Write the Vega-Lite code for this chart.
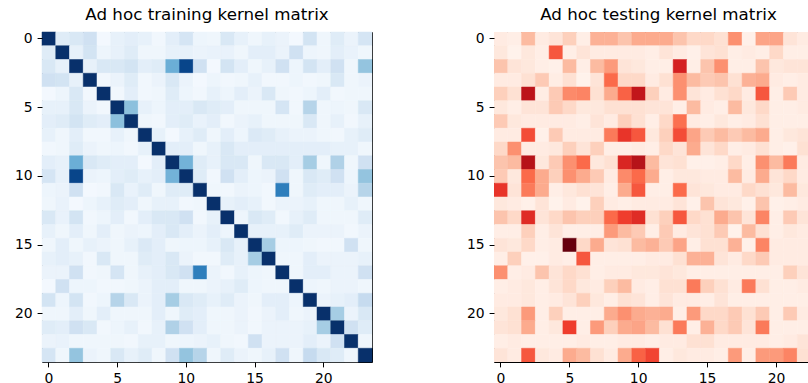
{
"$schema": "https://vega.github.io/schema/vega-lite/v6.json",
"padding": {"left": 14, "top": 6, "right": 0, "bottom": 0},
"background": "white",
"datasets": {
"train": [
{"r":0,"c":0,"v":1},{"r":0,"c":1,"v":0.12},{"r":0,"c":2,"v":0.15},{"r":0,"c":3,"v":0.2},{"r":0,"c":4,"v":0.02},{"r":0,"c":5,"v":0.08},{"r":0,"c":6,"v":0.1},{"r":0,"c":7,"v":0.08},{"r":0,"c":8,"v":0.03},{"r":0,"c":9,"v":0.1},{"r":0,"c":10,"v":0.17},{"r":0,"c":11,"v":0.05},{"r":0,"c":12,"v":0.04},{"r":0,"c":13,"v":0.15},{"r":0,"c":14,"v":0.08},{"r":0,"c":15,"v":0.04},{"r":0,"c":16,"v":0.08},{"r":0,"c":17,"v":0.06},{"r":0,"c":18,"v":0.02},{"r":0,"c":19,"v":0.18},{"r":0,"c":20,"v":0.04},{"r":0,"c":21,"v":0.12},{"r":0,"c":22,"v":0.06},{"r":0,"c":23,"v":0.17},
{"r":1,"c":0,"v":0.12},{"r":1,"c":1,"v":1},{"r":1,"c":2,"v":0.08},{"r":1,"c":3,"v":0.18},{"r":1,"c":4,"v":0.05},{"r":1,"c":5,"v":0.08},{"r":1,"c":6,"v":0.12},{"r":1,"c":7,"v":0.04},{"r":1,"c":8,"v":0.04},{"r":1,"c":9,"v":0.08},{"r":1,"c":10,"v":0.08},{"r":1,"c":11,"v":0.06},{"r":1,"c":12,"v":0.07},{"r":1,"c":13,"v":0.07},{"r":1,"c":14,"v":0.04},{"r":1,"c":15,"v":0.1},{"r":1,"c":16,"v":0.1},{"r":1,"c":17,"v":0.06},{"r":1,"c":18,"v":0.2},{"r":1,"c":19,"v":0.05},{"r":1,"c":20,"v":0.04},{"r":1,"c":21,"v":0.1},{"r":1,"c":22,"v":0.07},{"r":1,"c":23,"v":0.04},
{"r":2,"c":0,"v":0.15},{"r":2,"c":1,"v":0.08},{"r":2,"c":2,"v":1},{"r":2,"c":3,"v":0.08},{"r":2,"c":4,"v":0.15},{"r":2,"c":5,"v":0.15},{"r":2,"c":6,"v":0.18},{"r":2,"c":7,"v":0.1},{"r":2,"c":8,"v":0.12},{"r":2,"c":9,"v":0.5},{"r":2,"c":10,"v":0.92},{"r":2,"c":11,"v":0.2},{"r":2,"c":12,"v":0.02},{"r":2,"c":13,"v":0.18},{"r":2,"c":14,"v":0.1},{"r":2,"c":15,"v":0.04},{"r":2,"c":16,"v":0.08},{"r":2,"c":17,"v":0.2},{"r":2,"c":18,"v":0.05},{"r":2,"c":19,"v":0.18},{"r":2,"c":20,"v":0.1},{"r":2,"c":21,"v":0.2},{"r":2,"c":22,"v":0.04},{"r":2,"c":23,"v":0.4},
{"r":3,"c":0,"v":0.2},{"r":3,"c":1,"v":0.18},{"r":3,"c":2,"v":0.08},{"r":3,"c":3,"v":1},{"r":3,"c":4,"v":0.03},{"r":3,"c":5,"v":0.06},{"r":3,"c":6,"v":0.12},{"r":3,"c":7,"v":0.03},{"r":3,"c":8,"v":0.06},{"r":3,"c":9,"v":0.15},{"r":3,"c":10,"v":0.06},{"r":3,"c":11,"v":0.02},{"r":3,"c":12,"v":0.05},{"r":3,"c":13,"v":0.03},{"r":3,"c":14,"v":0.04},{"r":3,"c":15,"v":0.08},{"r":3,"c":16,"v":0.03},{"r":3,"c":17,"v":0.03},{"r":3,"c":18,"v":0.05},{"r":3,"c":19,"v":0.03},{"r":3,"c":20,"v":0.04},{"r":3,"c":21,"v":0.15},{"r":3,"c":22,"v":0.04},{"r":3,"c":23,"v":0.06},
{"r":4,"c":0,"v":0.02},{"r":4,"c":1,"v":0.05},{"r":4,"c":2,"v":0.15},{"r":4,"c":3,"v":0.03},{"r":4,"c":4,"v":1},{"r":4,"c":5,"v":0.03},{"r":4,"c":6,"v":0.1},{"r":4,"c":7,"v":0.03},{"r":4,"c":8,"v":0.04},{"r":4,"c":9,"v":0.12},{"r":4,"c":10,"v":0.05},{"r":4,"c":11,"v":0.03},{"r":4,"c":12,"v":0.08},{"r":4,"c":13,"v":0.05},{"r":4,"c":14,"v":0.1},{"r":4,"c":15,"v":0.06},{"r":4,"c":16,"v":0.15},{"r":4,"c":17,"v":0.04},{"r":4,"c":18,"v":0.03},{"r":4,"c":19,"v":0.05},{"r":4,"c":20,"v":0.1},{"r":4,"c":21,"v":0.03},{"r":4,"c":22,"v":0.04},{"r":4,"c":23,"v":0.04},
{"r":5,"c":0,"v":0.08},{"r":5,"c":1,"v":0.08},{"r":5,"c":2,"v":0.15},{"r":5,"c":3,"v":0.06},{"r":5,"c":4,"v":0.03},{"r":5,"c":5,"v":1},{"r":5,"c":6,"v":0.42},{"r":5,"c":7,"v":0.08},{"r":5,"c":8,"v":0.05},{"r":5,"c":9,"v":0.1},{"r":5,"c":10,"v":0.1},{"r":5,"c":11,"v":0.15},{"r":5,"c":12,"v":0.12},{"r":5,"c":13,"v":0.1},{"r":5,"c":14,"v":0.04},{"r":5,"c":15,"v":0.04},{"r":5,"c":16,"v":0.04},{"r":5,"c":17,"v":0.17},{"r":5,"c":18,"v":0.03},{"r":5,"c":19,"v":0.3},{"r":5,"c":20,"v":0.04},{"r":5,"c":21,"v":0.05},{"r":5,"c":22,"v":0.04},{"r":5,"c":23,"v":0.15},
{"r":6,"c":0,"v":0.1},{"r":6,"c":1,"v":0.12},{"r":6,"c":2,"v":0.18},{"r":6,"c":3,"v":0.12},{"r":6,"c":4,"v":0.1},{"r":6,"c":5,"v":0.42},{"r":6,"c":6,"v":1},{"r":6,"c":7,"v":0.04},{"r":6,"c":8,"v":0.03},{"r":6,"c":9,"v":0.1},{"r":6,"c":10,"v":0.12},{"r":6,"c":11,"v":0.07},{"r":6,"c":12,"v":0.1},{"r":6,"c":13,"v":0.03},{"r":6,"c":14,"v":0.06},{"r":6,"c":15,"v":0.08},{"r":6,"c":16,"v":0.04},{"r":6,"c":17,"v":0.04},{"r":6,"c":18,"v":0.04},{"r":6,"c":19,"v":0.15},{"r":6,"c":20,"v":0.04},{"r":6,"c":21,"v":0.08},{"r":6,"c":22,"v":0.03},{"r":6,"c":23,"v":0.08},
{"r":7,"c":0,"v":0.08},{"r":7,"c":1,"v":0.04},{"r":7,"c":2,"v":0.1},{"r":7,"c":3,"v":0.03},{"r":7,"c":4,"v":0.03},{"r":7,"c":5,"v":0.08},{"r":7,"c":6,"v":0.04},{"r":7,"c":7,"v":1},{"r":7,"c":8,"v":0.08},{"r":7,"c":9,"v":0.02},{"r":7,"c":10,"v":0.08},{"r":7,"c":11,"v":0.12},{"r":7,"c":12,"v":0.04},{"r":7,"c":13,"v":0.1},{"r":7,"c":14,"v":0.05},{"r":7,"c":15,"v":0.14},{"r":7,"c":16,"v":0.12},{"r":7,"c":17,"v":0.08},{"r":7,"c":18,"v":0.06},{"r":7,"c":19,"v":0.06},{"r":7,"c":20,"v":0.04},{"r":7,"c":21,"v":0.03},{"r":7,"c":22,"v":0.08},{"r":7,"c":23,"v":0.12},
{"r":8,"c":0,"v":0.03},{"r":8,"c":1,"v":0.04},{"r":8,"c":2,"v":0.12},{"r":8,"c":3,"v":0.06},{"r":8,"c":4,"v":0.04},{"r":8,"c":5,"v":0.05},{"r":8,"c":6,"v":0.03},{"r":8,"c":7,"v":0.08},{"r":8,"c":8,"v":1},{"r":8,"c":9,"v":0.1},{"r":8,"c":10,"v":0.1},{"r":8,"c":11,"v":0.04},{"r":8,"c":12,"v":0.08},{"r":8,"c":13,"v":0.15},{"r":8,"c":14,"v":0.1},{"r":8,"c":15,"v":0.1},{"r":8,"c":16,"v":0.1},{"r":8,"c":17,"v":0.1},{"r":8,"c":18,"v":0.1},{"r":8,"c":19,"v":0.1},{"r":8,"c":20,"v":0.1},{"r":8,"c":21,"v":0.08},{"r":8,"c":22,"v":0.08},{"r":8,"c":23,"v":0.04},
{"r":9,"c":0,"v":0.1},{"r":9,"c":1,"v":0.08},{"r":9,"c":2,"v":0.5},{"r":9,"c":3,"v":0.15},{"r":9,"c":4,"v":0.12},{"r":9,"c":5,"v":0.1},{"r":9,"c":6,"v":0.1},{"r":9,"c":7,"v":0.02},{"r":9,"c":8,"v":0.1},{"r":9,"c":9,"v":1},{"r":9,"c":10,"v":0.48},{"r":9,"c":11,"v":0.12},{"r":9,"c":12,"v":0.08},{"r":9,"c":13,"v":0.15},{"r":9,"c":14,"v":0.15},{"r":9,"c":15,"v":0.04},{"r":9,"c":16,"v":0.15},{"r":9,"c":17,"v":0.15},{"r":9,"c":18,"v":0.1},{"r":9,"c":19,"v":0.35},{"r":9,"c":20,"v":0.04},{"r":9,"c":21,"v":0.32},{"r":9,"c":22,"v":0.04},{"r":9,"c":23,"v":0.2},
{"r":10,"c":0,"v":0.17},{"r":10,"c":1,"v":0.08},{"r":10,"c":2,"v":0.92},{"r":10,"c":3,"v":0.06},{"r":10,"c":4,"v":0.05},{"r":10,"c":5,"v":0.1},{"r":10,"c":6,"v":0.12},{"r":10,"c":7,"v":0.08},{"r":10,"c":8,"v":0.1},{"r":10,"c":9,"v":0.48},{"r":10,"c":10,"v":1},{"r":10,"c":11,"v":0.12},{"r":10,"c":12,"v":0.03},{"r":10,"c":13,"v":0.2},{"r":10,"c":14,"v":0.1},{"r":10,"c":15,"v":0.05},{"r":10,"c":16,"v":0.06},{"r":10,"c":17,"v":0.2},{"r":10,"c":18,"v":0.04},{"r":10,"c":19,"v":0.15},{"r":10,"c":20,"v":0.12},{"r":10,"c":21,"v":0.2},{"r":10,"c":22,"v":0.05},{"r":10,"c":23,"v":0.4},
{"r":11,"c":0,"v":0.05},{"r":11,"c":1,"v":0.06},{"r":11,"c":2,"v":0.2},{"r":11,"c":3,"v":0.02},{"r":11,"c":4,"v":0.03},{"r":11,"c":5,"v":0.15},{"r":11,"c":6,"v":0.07},{"r":11,"c":7,"v":0.12},{"r":11,"c":8,"v":0.04},{"r":11,"c":9,"v":0.12},{"r":11,"c":10,"v":0.12},{"r":11,"c":11,"v":1},{"r":11,"c":12,"v":0.04},{"r":11,"c":13,"v":0.03},{"r":11,"c":14,"v":0.06},{"r":11,"c":15,"v":0.05},{"r":11,"c":16,"v":0.03},{"r":11,"c":17,"v":0.7},{"r":11,"c":18,"v":0.04},{"r":11,"c":19,"v":0.12},{"r":11,"c":20,"v":0.1},{"r":11,"c":21,"v":0.1},{"r":11,"c":22,"v":0.06},{"r":11,"c":23,"v":0.3},
{"r":12,"c":0,"v":0.04},{"r":12,"c":1,"v":0.07},{"r":12,"c":2,"v":0.02},{"r":12,"c":3,"v":0.05},{"r":12,"c":4,"v":0.08},{"r":12,"c":5,"v":0.12},{"r":12,"c":6,"v":0.1},{"r":12,"c":7,"v":0.04},{"r":12,"c":8,"v":0.08},{"r":12,"c":9,"v":0.08},{"r":12,"c":10,"v":0.03},{"r":12,"c":11,"v":0.04},{"r":12,"c":12,"v":1},{"r":12,"c":13,"v":0.08},{"r":12,"c":14,"v":0.1},{"r":12,"c":15,"v":0.08},{"r":12,"c":16,"v":0.03},{"r":12,"c":17,"v":0.06},{"r":12,"c":18,"v":0.06},{"r":12,"c":19,"v":0.08},{"r":12,"c":20,"v":0.04},{"r":12,"c":21,"v":0.04},{"r":12,"c":22,"v":0.08},{"r":12,"c":23,"v":0.04},
{"r":13,"c":0,"v":0.15},{"r":13,"c":1,"v":0.07},{"r":13,"c":2,"v":0.18},{"r":13,"c":3,"v":0.03},{"r":13,"c":4,"v":0.05},{"r":13,"c":5,"v":0.1},{"r":13,"c":6,"v":0.03},{"r":13,"c":7,"v":0.1},{"r":13,"c":8,"v":0.15},{"r":13,"c":9,"v":0.15},{"r":13,"c":10,"v":0.2},{"r":13,"c":11,"v":0.03},{"r":13,"c":12,"v":0.08},{"r":13,"c":13,"v":1},{"r":13,"c":14,"v":0.05},{"r":13,"c":15,"v":0.15},{"r":13,"c":16,"v":0.12},{"r":13,"c":17,"v":0.03},{"r":13,"c":18,"v":0.08},{"r":13,"c":19,"v":0.12},{"r":13,"c":20,"v":0.04},{"r":13,"c":21,"v":0.04},{"r":13,"c":22,"v":0.04},{"r":13,"c":23,"v":0.12},
{"r":14,"c":0,"v":0.08},{"r":14,"c":1,"v":0.04},{"r":14,"c":2,"v":0.1},{"r":14,"c":3,"v":0.04},{"r":14,"c":4,"v":0.1},{"r":14,"c":5,"v":0.04},{"r":14,"c":6,"v":0.06},{"r":14,"c":7,"v":0.05},{"r":14,"c":8,"v":0.1},{"r":14,"c":9,"v":0.15},{"r":14,"c":10,"v":0.1},{"r":14,"c":11,"v":0.06},{"r":14,"c":12,"v":0.1},{"r":14,"c":13,"v":0.05},{"r":14,"c":14,"v":1},{"r":14,"c":15,"v":0.08},{"r":14,"c":16,"v":0.08},{"r":14,"c":17,"v":0.08},{"r":14,"c":18,"v":0.12},{"r":14,"c":19,"v":0.06},{"r":14,"c":20,"v":0.06},{"r":14,"c":21,"v":0.06},{"r":14,"c":22,"v":0.03},{"r":14,"c":23,"v":0.06},
{"r":15,"c":0,"v":0.04},{"r":15,"c":1,"v":0.1},{"r":15,"c":2,"v":0.04},{"r":15,"c":3,"v":0.08},{"r":15,"c":4,"v":0.06},{"r":15,"c":5,"v":0.04},{"r":15,"c":6,"v":0.08},{"r":15,"c":7,"v":0.14},{"r":15,"c":8,"v":0.1},{"r":15,"c":9,"v":0.04},{"r":15,"c":10,"v":0.05},{"r":15,"c":11,"v":0.05},{"r":15,"c":12,"v":0.08},{"r":15,"c":13,"v":0.15},{"r":15,"c":14,"v":0.08},{"r":15,"c":15,"v":1},{"r":15,"c":16,"v":0.35},{"r":15,"c":17,"v":0.05},{"r":15,"c":18,"v":0.05},{"r":15,"c":19,"v":0.04},{"r":15,"c":20,"v":0.03},{"r":15,"c":21,"v":0.03},{"r":15,"c":22,"v":0.2},{"r":15,"c":23,"v":0.04},
{"r":16,"c":0,"v":0.08},{"r":16,"c":1,"v":0.1},{"r":16,"c":2,"v":0.08},{"r":16,"c":3,"v":0.03},{"r":16,"c":4,"v":0.15},{"r":16,"c":5,"v":0.04},{"r":16,"c":6,"v":0.04},{"r":16,"c":7,"v":0.12},{"r":16,"c":8,"v":0.1},{"r":16,"c":9,"v":0.15},{"r":16,"c":10,"v":0.06},{"r":16,"c":11,"v":0.03},{"r":16,"c":12,"v":0.03},{"r":16,"c":13,"v":0.12},{"r":16,"c":14,"v":0.08},{"r":16,"c":15,"v":0.35},{"r":16,"c":16,"v":1},{"r":16,"c":17,"v":0.04},{"r":16,"c":18,"v":0.04},{"r":16,"c":19,"v":0.1},{"r":16,"c":20,"v":0.06},{"r":16,"c":21,"v":0.06},{"r":16,"c":22,"v":0.06},{"r":16,"c":23,"v":0.08},
{"r":17,"c":0,"v":0.06},{"r":17,"c":1,"v":0.06},{"r":17,"c":2,"v":0.2},{"r":17,"c":3,"v":0.03},{"r":17,"c":4,"v":0.04},{"r":17,"c":5,"v":0.17},{"r":17,"c":6,"v":0.04},{"r":17,"c":7,"v":0.08},{"r":17,"c":8,"v":0.1},{"r":17,"c":9,"v":0.15},{"r":17,"c":10,"v":0.2},{"r":17,"c":11,"v":0.7},{"r":17,"c":12,"v":0.06},{"r":17,"c":13,"v":0.03},{"r":17,"c":14,"v":0.08},{"r":17,"c":15,"v":0.05},{"r":17,"c":16,"v":0.04},{"r":17,"c":17,"v":1},{"r":17,"c":18,"v":0.04},{"r":17,"c":19,"v":0.1},{"r":17,"c":20,"v":0.1},{"r":17,"c":21,"v":0.06},{"r":17,"c":22,"v":0.06},{"r":17,"c":23,"v":0.2},
{"r":18,"c":0,"v":0.02},{"r":18,"c":1,"v":0.2},{"r":18,"c":2,"v":0.05},{"r":18,"c":3,"v":0.05},{"r":18,"c":4,"v":0.03},{"r":18,"c":5,"v":0.03},{"r":18,"c":6,"v":0.04},{"r":18,"c":7,"v":0.06},{"r":18,"c":8,"v":0.1},{"r":18,"c":9,"v":0.1},{"r":18,"c":10,"v":0.04},{"r":18,"c":11,"v":0.04},{"r":18,"c":12,"v":0.06},{"r":18,"c":13,"v":0.08},{"r":18,"c":14,"v":0.12},{"r":18,"c":15,"v":0.05},{"r":18,"c":16,"v":0.04},{"r":18,"c":17,"v":0.04},{"r":18,"c":18,"v":1},{"r":18,"c":19,"v":0.05},{"r":18,"c":20,"v":0.04},{"r":18,"c":21,"v":0.06},{"r":18,"c":22,"v":0.06},{"r":18,"c":23,"v":0.04},
{"r":19,"c":0,"v":0.18},{"r":19,"c":1,"v":0.05},{"r":19,"c":2,"v":0.18},{"r":19,"c":3,"v":0.03},{"r":19,"c":4,"v":0.05},{"r":19,"c":5,"v":0.3},{"r":19,"c":6,"v":0.15},{"r":19,"c":7,"v":0.06},{"r":19,"c":8,"v":0.1},{"r":19,"c":9,"v":0.35},{"r":19,"c":10,"v":0.15},{"r":19,"c":11,"v":0.12},{"r":19,"c":12,"v":0.08},{"r":19,"c":13,"v":0.12},{"r":19,"c":14,"v":0.06},{"r":19,"c":15,"v":0.04},{"r":19,"c":16,"v":0.1},{"r":19,"c":17,"v":0.1},{"r":19,"c":18,"v":0.05},{"r":19,"c":19,"v":1},{"r":19,"c":20,"v":0.06},{"r":19,"c":21,"v":0.08},{"r":19,"c":22,"v":0.1},{"r":19,"c":23,"v":0.25},
{"r":20,"c":0,"v":0.04},{"r":20,"c":1,"v":0.04},{"r":20,"c":2,"v":0.1},{"r":20,"c":3,"v":0.04},{"r":20,"c":4,"v":0.1},{"r":20,"c":5,"v":0.04},{"r":20,"c":6,"v":0.04},{"r":20,"c":7,"v":0.04},{"r":20,"c":8,"v":0.1},{"r":20,"c":9,"v":0.04},{"r":20,"c":10,"v":0.12},{"r":20,"c":11,"v":0.1},{"r":20,"c":12,"v":0.04},{"r":20,"c":13,"v":0.04},{"r":20,"c":14,"v":0.06},{"r":20,"c":15,"v":0.03},{"r":20,"c":16,"v":0.06},{"r":20,"c":17,"v":0.1},{"r":20,"c":18,"v":0.04},{"r":20,"c":19,"v":0.06},{"r":20,"c":20,"v":1},{"r":20,"c":21,"v":0.35},{"r":20,"c":22,"v":0.06},{"r":20,"c":23,"v":0.15},
{"r":21,"c":0,"v":0.12},{"r":21,"c":1,"v":0.1},{"r":21,"c":2,"v":0.2},{"r":21,"c":3,"v":0.15},{"r":21,"c":4,"v":0.03},{"r":21,"c":5,"v":0.05},{"r":21,"c":6,"v":0.08},{"r":21,"c":7,"v":0.03},{"r":21,"c":8,"v":0.08},{"r":21,"c":9,"v":0.32},{"r":21,"c":10,"v":0.2},{"r":21,"c":11,"v":0.1},{"r":21,"c":12,"v":0.04},{"r":21,"c":13,"v":0.04},{"r":21,"c":14,"v":0.06},{"r":21,"c":15,"v":0.03},{"r":21,"c":16,"v":0.06},{"r":21,"c":17,"v":0.06},{"r":21,"c":18,"v":0.06},{"r":21,"c":19,"v":0.08},{"r":21,"c":20,"v":0.35},{"r":21,"c":21,"v":1},{"r":21,"c":22,"v":0.2},{"r":21,"c":23,"v":0.12},
{"r":22,"c":0,"v":0.06},{"r":22,"c":1,"v":0.07},{"r":22,"c":2,"v":0.04},{"r":22,"c":3,"v":0.04},{"r":22,"c":4,"v":0.04},{"r":22,"c":5,"v":0.04},{"r":22,"c":6,"v":0.03},{"r":22,"c":7,"v":0.08},{"r":22,"c":8,"v":0.08},{"r":22,"c":9,"v":0.04},{"r":22,"c":10,"v":0.05},{"r":22,"c":11,"v":0.06},{"r":22,"c":12,"v":0.08},{"r":22,"c":13,"v":0.04},{"r":22,"c":14,"v":0.03},{"r":22,"c":15,"v":0.2},{"r":22,"c":16,"v":0.06},{"r":22,"c":17,"v":0.06},{"r":22,"c":18,"v":0.06},{"r":22,"c":19,"v":0.1},{"r":22,"c":20,"v":0.06},{"r":22,"c":21,"v":0.2},{"r":22,"c":22,"v":1},{"r":22,"c":23,"v":0.04},
{"r":23,"c":0,"v":0.17},{"r":23,"c":1,"v":0.04},{"r":23,"c":2,"v":0.4},{"r":23,"c":3,"v":0.06},{"r":23,"c":4,"v":0.04},{"r":23,"c":5,"v":0.15},{"r":23,"c":6,"v":0.08},{"r":23,"c":7,"v":0.12},{"r":23,"c":8,"v":0.04},{"r":23,"c":9,"v":0.2},{"r":23,"c":10,"v":0.4},{"r":23,"c":11,"v":0.3},{"r":23,"c":12,"v":0.04},{"r":23,"c":13,"v":0.12},{"r":23,"c":14,"v":0.06},{"r":23,"c":15,"v":0.04},{"r":23,"c":16,"v":0.08},{"r":23,"c":17,"v":0.2},{"r":23,"c":18,"v":0.04},{"r":23,"c":19,"v":0.25},{"r":23,"c":20,"v":0.15},{"r":23,"c":21,"v":0.12},{"r":23,"c":22,"v":0.04},{"r":23,"c":23,"v":1}
],
"test": [
{"r":0,"c":0,"v":0.06},{"r":0,"c":1,"v":0.04},{"r":0,"c":2,"v":0.25},{"r":0,"c":3,"v":0.06},{"r":0,"c":4,"v":0.1},{"r":0,"c":5,"v":0.18},{"r":0,"c":6,"v":0.04},{"r":0,"c":7,"v":0.28},{"r":0,"c":8,"v":0.28},{"r":0,"c":9,"v":0.22},{"r":0,"c":10,"v":0.3},{"r":0,"c":11,"v":0.3},{"r":0,"c":12,"v":0.3},{"r":0,"c":13,"v":0.22},{"r":0,"c":14,"v":0.15},{"r":0,"c":15,"v":0.15},{"r":0,"c":16,"v":0.12},{"r":0,"c":17,"v":0.38},{"r":0,"c":18,"v":0.03},{"r":0,"c":19,"v":0.32},{"r":0,"c":20,"v":0.32},{"r":0,"c":21,"v":0.1},{"r":0,"c":22,"v":0.06},
{"r":1,"c":0,"v":0.08},{"r":1,"c":1,"v":0.02},{"r":1,"c":2,"v":0.08},{"r":1,"c":3,"v":0.04},{"r":1,"c":4,"v":0.55},{"r":1,"c":5,"v":0.04},{"r":1,"c":6,"v":0.1},{"r":1,"c":7,"v":0.06},{"r":1,"c":8,"v":0.06},{"r":1,"c":9,"v":0.06},{"r":1,"c":10,"v":0.06},{"r":1,"c":11,"v":0.04},{"r":1,"c":12,"v":0.1},{"r":1,"c":13,"v":0.06},{"r":1,"c":14,"v":0.03},{"r":1,"c":15,"v":0.1},{"r":1,"c":16,"v":0.12},{"r":1,"c":17,"v":0.04},{"r":1,"c":18,"v":0.06},{"r":1,"c":19,"v":0.04},{"r":1,"c":20,"v":0.15},{"r":1,"c":21,"v":0.04},{"r":1,"c":22,"v":0.04},
{"r":2,"c":0,"v":0.22},{"r":2,"c":1,"v":0.1},{"r":2,"c":2,"v":0.08},{"r":2,"c":3,"v":0.04},{"r":2,"c":4,"v":0.03},{"r":2,"c":5,"v":0.25},{"r":2,"c":6,"v":0.04},{"r":2,"c":7,"v":0.25},{"r":2,"c":8,"v":0.35},{"r":2,"c":9,"v":0.1},{"r":2,"c":10,"v":0.08},{"r":2,"c":11,"v":0.04},{"r":2,"c":12,"v":0.04},{"r":2,"c":13,"v":0.72},{"r":2,"c":14,"v":0.04},{"r":2,"c":15,"v":0.22},{"r":2,"c":16,"v":0.38},{"r":2,"c":17,"v":0.04},{"r":2,"c":18,"v":0.04},{"r":2,"c":19,"v":0.22},{"r":2,"c":20,"v":0.08},{"r":2,"c":21,"v":0.1},{"r":2,"c":22,"v":0.1},
{"r":3,"c":0,"v":0.06},{"r":3,"c":1,"v":0.06},{"r":3,"c":2,"v":0.12},{"r":3,"c":3,"v":0.2},{"r":3,"c":4,"v":0.05},{"r":3,"c":5,"v":0.12},{"r":3,"c":6,"v":0.02},{"r":3,"c":7,"v":0.1},{"r":3,"c":8,"v":0.5},{"r":3,"c":9,"v":0.15},{"r":3,"c":10,"v":0.15},{"r":3,"c":11,"v":0.06},{"r":3,"c":12,"v":0.12},{"r":3,"c":13,"v":0.38},{"r":3,"c":14,"v":0.25},{"r":3,"c":15,"v":0.2},{"r":3,"c":16,"v":0.22},{"r":3,"c":17,"v":0.12},{"r":3,"c":18,"v":0.28},{"r":3,"c":19,"v":0.3},{"r":3,"c":20,"v":0.06},{"r":3,"c":21,"v":0.04},{"r":3,"c":22,"v":0.06},
{"r":4,"c":0,"v":0.18},{"r":4,"c":1,"v":0.12},{"r":4,"c":2,"v":0.8},{"r":4,"c":3,"v":0.05},{"r":4,"c":4,"v":0.2},{"r":4,"c":5,"v":0.4},{"r":4,"c":6,"v":0.42},{"r":4,"c":7,"v":0.12},{"r":4,"c":8,"v":0.3},{"r":4,"c":9,"v":0.52},{"r":4,"c":10,"v":0.78},{"r":4,"c":11,"v":0.18},{"r":4,"c":12,"v":0.06},{"r":4,"c":13,"v":0.38},{"r":4,"c":14,"v":0.1},{"r":4,"c":15,"v":0.06},{"r":4,"c":16,"v":0.12},{"r":4,"c":17,"v":0.15},{"r":4,"c":18,"v":0.06},{"r":4,"c":19,"v":0.55},{"r":4,"c":20,"v":0.04},{"r":4,"c":21,"v":0.2},{"r":4,"c":22,"v":0.06},
{"r":5,"c":0,"v":0.08},{"r":5,"c":1,"v":0.04},{"r":5,"c":2,"v":0.1},{"r":5,"c":3,"v":0.1},{"r":5,"c":4,"v":0.2},{"r":5,"c":5,"v":0.15},{"r":5,"c":6,"v":0.08},{"r":5,"c":7,"v":0.08},{"r":5,"c":8,"v":0.12},{"r":5,"c":9,"v":0.12},{"r":5,"c":10,"v":0.12},{"r":5,"c":11,"v":0.1},{"r":5,"c":12,"v":0.1},{"r":5,"c":13,"v":0.04},{"r":5,"c":14,"v":0.25},{"r":5,"c":15,"v":0.06},{"r":5,"c":16,"v":0.04},{"r":5,"c":17,"v":0.25},{"r":5,"c":18,"v":0.08},{"r":5,"c":19,"v":0.15},{"r":5,"c":20,"v":0.04},{"r":5,"c":21,"v":0.04},{"r":5,"c":22,"v":0.06},
{"r":6,"c":0,"v":0.2},{"r":6,"c":1,"v":0.08},{"r":6,"c":2,"v":0.06},{"r":6,"c":3,"v":0.06},{"r":6,"c":4,"v":0.06},{"r":6,"c":5,"v":0.06},{"r":6,"c":6,"v":0.04},{"r":6,"c":7,"v":0.1},{"r":6,"c":8,"v":0.06},{"r":6,"c":9,"v":0.18},{"r":6,"c":10,"v":0.12},{"r":6,"c":11,"v":0.04},{"r":6,"c":12,"v":0.15},{"r":6,"c":13,"v":0.48},{"r":6,"c":14,"v":0.06},{"r":6,"c":15,"v":0.04},{"r":6,"c":16,"v":0.08},{"r":6,"c":17,"v":0.04},{"r":6,"c":18,"v":0.06},{"r":6,"c":19,"v":0.12},{"r":6,"c":20,"v":0.04},{"r":6,"c":21,"v":0.04},{"r":6,"c":22,"v":0.04},
{"r":7,"c":0,"v":0.06},{"r":7,"c":1,"v":0.06},{"r":7,"c":2,"v":0.58},{"r":7,"c":3,"v":0.03},{"r":7,"c":4,"v":0.2},{"r":7,"c":5,"v":0.06},{"r":7,"c":6,"v":0.06},{"r":7,"c":7,"v":0.06},{"r":7,"c":8,"v":0.45},{"r":7,"c":9,"v":0.65},{"r":7,"c":10,"v":0.55},{"r":7,"c":11,"v":0.08},{"r":7,"c":12,"v":0.18},{"r":7,"c":13,"v":0.58},{"r":7,"c":14,"v":0.32},{"r":7,"c":15,"v":0.2},{"r":7,"c":16,"v":0.25},{"r":7,"c":17,"v":0.2},{"r":7,"c":18,"v":0.25},{"r":7,"c":19,"v":0.3},{"r":7,"c":20,"v":0.04},{"r":7,"c":21,"v":0.08},{"r":7,"c":22,"v":0.1},
{"r":8,"c":0,"v":0.15},{"r":8,"c":1,"v":0.38},{"r":8,"c":2,"v":0.06},{"r":8,"c":3,"v":0.06},{"r":8,"c":4,"v":0.08},{"r":8,"c":5,"v":0.18},{"r":8,"c":6,"v":0.1},{"r":8,"c":7,"v":0.18},{"r":8,"c":8,"v":0.04},{"r":8,"c":9,"v":0.04},{"r":8,"c":10,"v":0.06},{"r":8,"c":11,"v":0.04},{"r":8,"c":12,"v":0.15},{"r":8,"c":13,"v":0.1},{"r":8,"c":14,"v":0.3},{"r":8,"c":15,"v":0.1},{"r":8,"c":16,"v":0.15},{"r":8,"c":17,"v":0.04},{"r":8,"c":18,"v":0.06},{"r":8,"c":19,"v":0.12},{"r":8,"c":20,"v":0.04},{"r":8,"c":21,"v":0.03},{"r":8,"c":22,"v":0.12},
{"r":9,"c":0,"v":0.22},{"r":9,"c":1,"v":0.25},{"r":9,"c":2,"v":0.82},{"r":9,"c":3,"v":0.08},{"r":9,"c":4,"v":0.2},{"r":9,"c":5,"v":0.38},{"r":9,"c":6,"v":0.5},{"r":9,"c":7,"v":0.08},{"r":9,"c":8,"v":0.12},{"r":9,"c":9,"v":0.7},{"r":9,"c":10,"v":0.82},{"r":9,"c":11,"v":0.25},{"r":9,"c":12,"v":0.1},{"r":9,"c":13,"v":0.12},{"r":9,"c":14,"v":0.03},{"r":9,"c":15,"v":0.03},{"r":9,"c":16,"v":0.04},{"r":9,"c":17,"v":0.15},{"r":9,"c":18,"v":0.04},{"r":9,"c":19,"v":0.38},{"r":9,"c":20,"v":0.25},{"r":9,"c":21,"v":0.45},{"r":9,"c":22,"v":0.06},
{"r":10,"c":0,"v":0.2},{"r":10,"c":1,"v":0.08},{"r":10,"c":2,"v":0.5},{"r":10,"c":3,"v":0.3},{"r":10,"c":4,"v":0.18},{"r":10,"c":5,"v":0.38},{"r":10,"c":6,"v":0.3},{"r":10,"c":7,"v":0.2},{"r":10,"c":8,"v":0.06},{"r":10,"c":9,"v":0.4},{"r":10,"c":10,"v":0.5},{"r":10,"c":11,"v":0.3},{"r":10,"c":12,"v":0.04},{"r":10,"c":13,"v":0.08},{"r":10,"c":14,"v":0.08},{"r":10,"c":15,"v":0.06},{"r":10,"c":16,"v":0.06},{"r":10,"c":17,"v":0.25},{"r":10,"c":18,"v":0.06},{"r":10,"c":19,"v":0.3},{"r":10,"c":20,"v":0.1},{"r":10,"c":21,"v":0.15},{"r":10,"c":22,"v":0.06},
{"r":11,"c":0,"v":0.65},{"r":11,"c":1,"v":0.1},{"r":11,"c":2,"v":0.45},{"r":11,"c":3,"v":0.3},{"r":11,"c":4,"v":0.04},{"r":11,"c":5,"v":0.08},{"r":11,"c":6,"v":0.12},{"r":11,"c":7,"v":0.1},{"r":11,"c":8,"v":0.04},{"r":11,"c":9,"v":0.3},{"r":11,"c":10,"v":0.55},{"r":11,"c":11,"v":0.04},{"r":11,"c":12,"v":0.04},{"r":11,"c":13,"v":0.5},{"r":11,"c":14,"v":0.1},{"r":11,"c":15,"v":0.08},{"r":11,"c":16,"v":0.06},{"r":11,"c":17,"v":0.06},{"r":11,"c":18,"v":0.15},{"r":11,"c":19,"v":0.12},{"r":11,"c":20,"v":0.08},{"r":11,"c":21,"v":0.25},{"r":11,"c":22,"v":0.08},
{"r":12,"c":0,"v":0.08},{"r":12,"c":1,"v":0.06},{"r":12,"c":2,"v":0.03},{"r":12,"c":3,"v":0.1},{"r":12,"c":4,"v":0.02},{"r":12,"c":5,"v":0.06},{"r":12,"c":6,"v":0.02},{"r":12,"c":7,"v":0.18},{"r":12,"c":8,"v":0.06},{"r":12,"c":9,"v":0.04},{"r":12,"c":10,"v":0.06},{"r":12,"c":11,"v":0.06},{"r":12,"c":12,"v":0.06},{"r":12,"c":13,"v":0.1},{"r":12,"c":14,"v":0.03},{"r":12,"c":15,"v":0.22},{"r":12,"c":16,"v":0.1},{"r":12,"c":17,"v":0.08},{"r":12,"c":18,"v":0.03},{"r":12,"c":19,"v":0.22},{"r":12,"c":20,"v":0.03},{"r":12,"c":21,"v":0.04},{"r":12,"c":22,"v":0.06},
{"r":13,"c":0,"v":0.22},{"r":13,"c":1,"v":0.15},{"r":13,"c":2,"v":0.68},{"r":13,"c":3,"v":0.1},{"r":13,"c":4,"v":0.15},{"r":13,"c":5,"v":0.22},{"r":13,"c":6,"v":0.18},{"r":13,"c":7,"v":0.18},{"r":13,"c":8,"v":0.5},{"r":13,"c":9,"v":0.62},{"r":13,"c":10,"v":0.68},{"r":13,"c":11,"v":0.12},{"r":13,"c":12,"v":0.18},{"r":13,"c":13,"v":0.55},{"r":13,"c":14,"v":0.15},{"r":13,"c":15,"v":0.12},{"r":13,"c":16,"v":0.3},{"r":13,"c":17,"v":0.22},{"r":13,"c":18,"v":0.1},{"r":13,"c":19,"v":0.42},{"r":13,"c":20,"v":0.04},{"r":13,"c":21,"v":0.2},{"r":13,"c":22,"v":0.1},
{"r":14,"c":0,"v":0.04},{"r":14,"c":1,"v":0.04},{"r":14,"c":2,"v":0.18},{"r":14,"c":3,"v":0.04},{"r":14,"c":4,"v":0.1},{"r":14,"c":5,"v":0.04},{"r":14,"c":6,"v":0.04},{"r":14,"c":7,"v":0.04},{"r":14,"c":8,"v":0.35},{"r":14,"c":9,"v":0.25},{"r":14,"c":10,"v":0.2},{"r":14,"c":11,"v":0.04},{"r":14,"c":12,"v":0.2},{"r":14,"c":13,"v":0.06},{"r":14,"c":14,"v":0.1},{"r":14,"c":15,"v":0.12},{"r":14,"c":16,"v":0.2},{"r":14,"c":17,"v":0.02},{"r":14,"c":18,"v":0.25},{"r":14,"c":19,"v":0.12},{"r":14,"c":20,"v":0.04},{"r":14,"c":21,"v":0.08},{"r":14,"c":22,"v":0.06},
{"r":15,"c":0,"v":0.1},{"r":15,"c":1,"v":0.08},{"r":15,"c":2,"v":0.15},{"r":15,"c":3,"v":0.04},{"r":15,"c":4,"v":0.06},{"r":15,"c":5,"v":1},{"r":15,"c":6,"v":0.15},{"r":15,"c":7,"v":0.3},{"r":15,"c":8,"v":0.1},{"r":15,"c":9,"v":0.12},{"r":15,"c":10,"v":0.25},{"r":15,"c":11,"v":0.28},{"r":15,"c":12,"v":0.2},{"r":15,"c":13,"v":0.32},{"r":15,"c":14,"v":0.04},{"r":15,"c":15,"v":0.12},{"r":15,"c":16,"v":0.12},{"r":15,"c":17,"v":0.28},{"r":15,"c":18,"v":0.03},{"r":15,"c":19,"v":0.42},{"r":15,"c":20,"v":0.06},{"r":15,"c":21,"v":0.06},{"r":15,"c":22,"v":0.06},
{"r":16,"c":0,"v":0.04},{"r":16,"c":1,"v":0.18},{"r":16,"c":2,"v":0.03},{"r":16,"c":3,"v":0.03},{"r":16,"c":4,"v":0.06},{"r":16,"c":5,"v":0.04},{"r":16,"c":6,"v":0.55},{"r":16,"c":7,"v":0.04},{"r":16,"c":8,"v":0.04},{"r":16,"c":9,"v":0.04},{"r":16,"c":10,"v":0.04},{"r":16,"c":11,"v":0.06},{"r":16,"c":12,"v":0.06},{"r":16,"c":13,"v":0.12},{"r":16,"c":14,"v":0.28},{"r":16,"c":15,"v":0.28},{"r":16,"c":16,"v":0.1},{"r":16,"c":17,"v":0.06},{"r":16,"c":18,"v":0.15},{"r":16,"c":19,"v":0.2},{"r":16,"c":20,"v":0.06},{"r":16,"c":21,"v":0.06},{"r":16,"c":22,"v":0.06},
{"r":17,"c":0,"v":0.38},{"r":17,"c":1,"v":0.04},{"r":17,"c":2,"v":0.06},{"r":17,"c":3,"v":0.22},{"r":17,"c":4,"v":0.1},{"r":17,"c":5,"v":0.15},{"r":17,"c":6,"v":0.12},{"r":17,"c":7,"v":0.04},{"r":17,"c":8,"v":0.06},{"r":17,"c":9,"v":0.06},{"r":17,"c":10,"v":0.08},{"r":17,"c":11,"v":0.08},{"r":17,"c":12,"v":0.1},{"r":17,"c":13,"v":0.08},{"r":17,"c":14,"v":0.04},{"r":17,"c":15,"v":0.04},{"r":17,"c":16,"v":0.04},{"r":17,"c":17,"v":0.04},{"r":17,"c":18,"v":0.04},{"r":17,"c":19,"v":0.04},{"r":17,"c":20,"v":0.04},{"r":17,"c":21,"v":0.18},{"r":17,"c":22,"v":0.1},
{"r":18,"c":0,"v":0.04},{"r":18,"c":1,"v":0.06},{"r":18,"c":2,"v":0.08},{"r":18,"c":3,"v":0.04},{"r":18,"c":4,"v":0.1},{"r":18,"c":5,"v":0.15},{"r":18,"c":6,"v":0.08},{"r":18,"c":7,"v":0.06},{"r":18,"c":8,"v":0.18},{"r":18,"c":9,"v":0.25},{"r":18,"c":10,"v":0.06},{"r":18,"c":11,"v":0.04},{"r":18,"c":12,"v":0.12},{"r":18,"c":13,"v":0.12},{"r":18,"c":14,"v":0.45},{"r":18,"c":15,"v":0.18},{"r":18,"c":16,"v":0.12},{"r":18,"c":17,"v":0.06},{"r":18,"c":18,"v":0.45},{"r":18,"c":19,"v":0.12},{"r":18,"c":20,"v":0.04},{"r":18,"c":21,"v":0.04},{"r":18,"c":22,"v":0.06},
{"r":19,"c":0,"v":0.06},{"r":19,"c":1,"v":0.06},{"r":19,"c":2,"v":0.08},{"r":19,"c":3,"v":0.04},{"r":19,"c":4,"v":0.06},{"r":19,"c":5,"v":0.1},{"r":19,"c":6,"v":0.18},{"r":19,"c":7,"v":0.08},{"r":19,"c":8,"v":0.04},{"r":19,"c":9,"v":0.12},{"r":19,"c":10,"v":0.1},{"r":19,"c":11,"v":0.04},{"r":19,"c":12,"v":0.1},{"r":19,"c":13,"v":0.06},{"r":19,"c":14,"v":0.06},{"r":19,"c":15,"v":0.04},{"r":19,"c":16,"v":0.1},{"r":19,"c":17,"v":0.04},{"r":19,"c":18,"v":0.04},{"r":19,"c":19,"v":0.04},{"r":19,"c":20,"v":0.04},{"r":19,"c":21,"v":0.04},{"r":19,"c":22,"v":0.04},
{"r":20,"c":0,"v":0.08},{"r":20,"c":1,"v":0.12},{"r":20,"c":2,"v":0.35},{"r":20,"c":3,"v":0.04},{"r":20,"c":4,"v":0.18},{"r":20,"c":5,"v":0.04},{"r":20,"c":6,"v":0.04},{"r":20,"c":7,"v":0.04},{"r":20,"c":8,"v":0.3},{"r":20,"c":9,"v":0.38},{"r":20,"c":10,"v":0.3},{"r":20,"c":11,"v":0.28},{"r":20,"c":12,"v":0.3},{"r":20,"c":13,"v":0.04},{"r":20,"c":14,"v":0.35},{"r":20,"c":15,"v":0.15},{"r":20,"c":16,"v":0.15},{"r":20,"c":17,"v":0.2},{"r":20,"c":18,"v":0.12},{"r":20,"c":19,"v":0.2},{"r":20,"c":20,"v":0.04},{"r":20,"c":21,"v":0.2},{"r":20,"c":22,"v":0.06},
{"r":21,"c":0,"v":0.1},{"r":21,"c":1,"v":0.12},{"r":21,"c":2,"v":0.3},{"r":21,"c":3,"v":0.04},{"r":21,"c":4,"v":0.08},{"r":21,"c":5,"v":0.62},{"r":21,"c":6,"v":0.04},{"r":21,"c":7,"v":0.35},{"r":21,"c":8,"v":0.18},{"r":21,"c":9,"v":0.3},{"r":21,"c":10,"v":0.32},{"r":21,"c":11,"v":0.25},{"r":21,"c":12,"v":0.12},{"r":21,"c":13,"v":0.45},{"r":21,"c":14,"v":0.04},{"r":21,"c":15,"v":0.28},{"r":21,"c":16,"v":0.15},{"r":21,"c":17,"v":0.2},{"r":21,"c":18,"v":0.1},{"r":21,"c":19,"v":0.45},{"r":21,"c":20,"v":0.04},{"r":21,"c":21,"v":0.04},{"r":21,"c":22,"v":0.04},
{"r":22,"c":0,"v":0.04},{"r":22,"c":1,"v":0.06},{"r":22,"c":2,"v":0.04},{"r":22,"c":3,"v":0.04},{"r":22,"c":4,"v":0.04},{"r":22,"c":5,"v":0.04},{"r":22,"c":6,"v":0.06},{"r":22,"c":7,"v":0.04},{"r":22,"c":8,"v":0.04},{"r":22,"c":9,"v":0.06},{"r":22,"c":10,"v":0.06},{"r":22,"c":11,"v":0.04},{"r":22,"c":12,"v":0.06},{"r":22,"c":13,"v":0.06},{"r":22,"c":14,"v":0.12},{"r":22,"c":15,"v":0.12},{"r":22,"c":16,"v":0.06},{"r":22,"c":17,"v":0.06},{"r":22,"c":18,"v":0.06},{"r":22,"c":19,"v":0.06},{"r":22,"c":20,"v":0.04},{"r":22,"c":21,"v":0.06},{"r":22,"c":22,"v":0.1},
{"r":23,"c":0,"v":0.1},{"r":23,"c":1,"v":0.06},{"r":23,"c":2,"v":0.55},{"r":23,"c":3,"v":0.08},{"r":23,"c":4,"v":0.06},{"r":23,"c":5,"v":0.3},{"r":23,"c":6,"v":0.25},{"r":23,"c":7,"v":0.12},{"r":23,"c":8,"v":0.06},{"r":23,"c":9,"v":0.3},{"r":23,"c":10,"v":0.52},{"r":23,"c":11,"v":0.6},{"r":23,"c":12,"v":0.04},{"r":23,"c":13,"v":0.08},{"r":23,"c":14,"v":0.06},{"r":23,"c":15,"v":0.06},{"r":23,"c":16,"v":0.04},{"r":23,"c":17,"v":0.35},{"r":23,"c":18,"v":0.04},{"r":23,"c":19,"v":0.35},{"r":23,"c":20,"v":0.35},{"r":23,"c":21,"v":0.42},{"r":23,"c":22,"v":0.12}
]
},
"config": {
"font": "DejaVu Sans",
"view": {"stroke": "#000", "strokeWidth": 1},
"axis": {"domain": false, "grid": false, "tickSize": 4.9, "tickColor": "#000", "tickWidth": 1, "labelPadding": 4.9, "labelFontSize": 13.9, "labelColor": "#000", "labelFont": "DejaVu Sans"},
"title": {"fontSize": 16.7, "fontWeight": "normal", "color": "#000", "font": "DejaVu Sans", "offset": 8, "baseline": "alphabetic", "anchor": "middle"},
"concat": {"spacing": 93}
},
"hconcat": [
{
"title": {"text": "Ad hoc training kernel matrix"},
"data": {"name": "train"},
"width": 330, "height": 330,
"mark": {"type": "rect", "strokeWidth": 0.5},
"encoding": {
"x": {"field": "c", "type": "ordinal", "scale": {"paddingInner": 0, "paddingOuter": 0}, "axis": {"values": [0,5,10,15,20], "labelAngle": 0, "title": null}},
"y": {"field": "r", "type": "ordinal", "scale": {"paddingInner": 0, "paddingOuter": 0}, "axis": {"values": [0,5,10,15,20], "title": null}},
"color": {"field": "v", "type": "quantitative", "scale": {"domain": [0,0.125,0.25,0.375,0.5,0.625,0.75,0.875,1], "range": ["#f7fbff","#deebf7","#c6dbef","#9ecae1","#6baed6","#4292c6","#2171b5","#08519c","#08306b"], "interpolate": "rgb"}, "legend": null},
"stroke": {"field": "v", "type": "quantitative", "scale": {"domain": [0,0.125,0.25,0.375,0.5,0.625,0.75,0.875,1], "range": ["#f7fbff","#deebf7","#c6dbef","#9ecae1","#6baed6","#4292c6","#2171b5","#08519c","#08306b"], "interpolate": "rgb"}, "legend": null}
}
},
{
"title": {"text": "Ad hoc testing kernel matrix", "dx": 7},
"data": {"name": "test"},
"width": 315, "height": 330,
"mark": {"type": "rect", "strokeWidth": 0.5, "clip": true},
"encoding": {
"x": {"field": "c", "type": "ordinal", "scale": {"paddingInner": 0, "paddingOuter": 0, "range": [0, 317]}, "axis": {"values": [0,5,10,15,20], "labelAngle": 0, "title": null}},
"y": {"field": "r", "type": "ordinal", "scale": {"paddingInner": 0, "paddingOuter": 0}, "axis": {"values": [0,5,10,15,20], "title": null}},
"color": {"field": "v", "type": "quantitative", "scale": {"domain": [0,0.125,0.25,0.375,0.5,0.625,0.75,0.875,1], "range": ["#fff5f0","#fee0d2","#fcbba1","#fc9272","#fb6a4a","#ef3b2c","#cb181d","#a50f15","#67000d"], "interpolate": "rgb"}, "legend": null},
"stroke": {"field": "v", "type": "quantitative", "scale": {"domain": [0,0.125,0.25,0.375,0.5,0.625,0.75,0.875,1], "range": ["#fff5f0","#fee0d2","#fcbba1","#fc9272","#fb6a4a","#ef3b2c","#cb181d","#a50f15","#67000d"], "interpolate": "rgb"}, "legend": null}
}
}
],
"resolve": {"scale": {"color": "independent", "stroke": "independent", "x": "independent", "y": "independent"}}
}
